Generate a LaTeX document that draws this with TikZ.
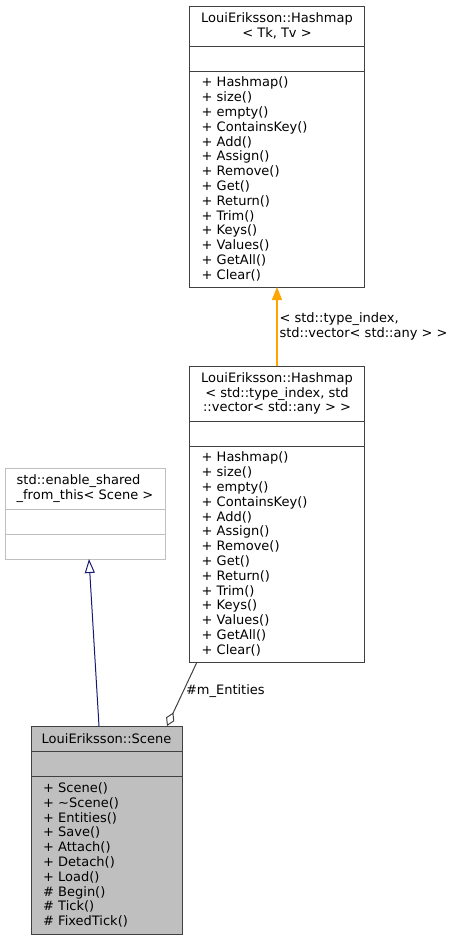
\documentclass[tikz,border=0pt]{standalone}
\usepackage{fontspec}
\setmainfont{DejaVu Sans}
\usetikzlibrary{arrows.meta, positioning}

\definecolor{edgegray}{HTML}{404040}
\definecolor{boxgray}{HTML}{BFBFBF}
\definecolor{inheritblue}{HTML}{191970}
\definecolor{tmplorange}{HTML}{FFA500}

\begin{document}
\begin{tikzpicture}[
      x=1pt, y=-1pt,
      font=\fontsize{13}{14.8}\selectfont,
      box/.style={draw=edgegray, line width=1pt, outer sep=0pt, inner ysep=1pt},
      head/.style={box, minimum width=#1, align=center, anchor=north},
      attr/.style={box, minimum width=#1, minimum height=25pt},
      body/.style={box, text width=#1, inner xsep=12pt, align=left},
      tmpl/.style={color=tmplorange, line width=1.2pt, -{Triangle[length=13pt, width=10pt]}},
      inherit/.style={color=inheritblue, line width=1pt, -{Triangle[open, length=14pt, width=10pt]}},
      aggr/.style={color=edgegray, line width=1pt, -{Diamond[open, length=15pt, width=9pt]}},
      label/.style={text=black, inner sep=2pt, align=left}
    ]

    \useasboundingbox (0,0) rectangle (453,940);

    % template base
    \node[head=175pt, minimum height=40pt] (mapT) at (277,6) {LouiEriksson::Hashmap\\< Tk, Tv >};
    \node[attr=175pt, below=0pt of mapT] (mapA) {};
    \node[body=151pt, minimum height=216pt, below=0pt of mapA] (mapO) {+ Hashmap()\\+ size()\\+ empty()\\+ ContainsKey()\\+ Add()\\+ Assign()\\+ Remove()\\+ Get()\\+ Return()\\+ Trim()\\+ Keys()\\+ Values()\\+ GetAll()\\+ Clear()};

    % instantiated map
    \node[head=175pt, minimum height=55pt] (entT) at (277,366) {LouiEriksson::Hashmap\\< std::type\_index, std\\::vector< std::any > >};
    \node[attr=175pt, below=0pt of entT] (entA) {};
    \node[body=151pt, minimum height=216pt, below=0pt of entA] (entO) {+ Hashmap()\\+ size()\\+ empty()\\+ ContainsKey()\\+ Add()\\+ Assign()\\+ Remove()\\+ Get()\\+ Return()\\+ Trim()\\+ Keys()\\+ Values()\\+ GetAll()\\+ Clear()};

    % std base
    \node[head=160pt, draw=boxgray, minimum height=41pt, align=left] (shareT) at (85,468) {std::enable\_shared\\\_from\_this< Scene >};
    \node[attr=160pt, draw=boxgray, below=0pt of shareT] (shareA) {};
    \node[attr=160pt, draw=boxgray, below=0pt of shareA] (shareO) {};

    % scene
    \node[head=151pt, fill=boxgray, minimum height=25pt] (sceneT) at (106.5,726) {LouiEriksson::Scene};
    \node[attr=151pt, fill=boxgray, below=0pt of sceneT] (sceneA) {};
    \node[body=127pt, fill=boxgray, minimum height=158pt, below=0pt of sceneA] (sceneO) {+ Scene()\\+ \textasciitilde Scene()\\+ Entities()\\+ Save()\\+ Attach()\\+ Detach()\\+ Load()\\\# Begin()\\\# Tick()\\\# FixedTick()};

    \draw[tmpl] (entT.north) -- node[label, right] {< std::type\_index,\\std::vector< std::any > >} (mapO.south);
    \draw[inherit] ([xshift=-7.5pt]sceneT.north) -- ([xshift=4pt]shareO.south);
    \draw[aggr] ([xshift=-80pt]entO.south) -- node[label, right, pos=0.45] {\#m\_Entities} ([xshift=60.5pt]sceneT.north);

  \end{tikzpicture}
\end{document}
